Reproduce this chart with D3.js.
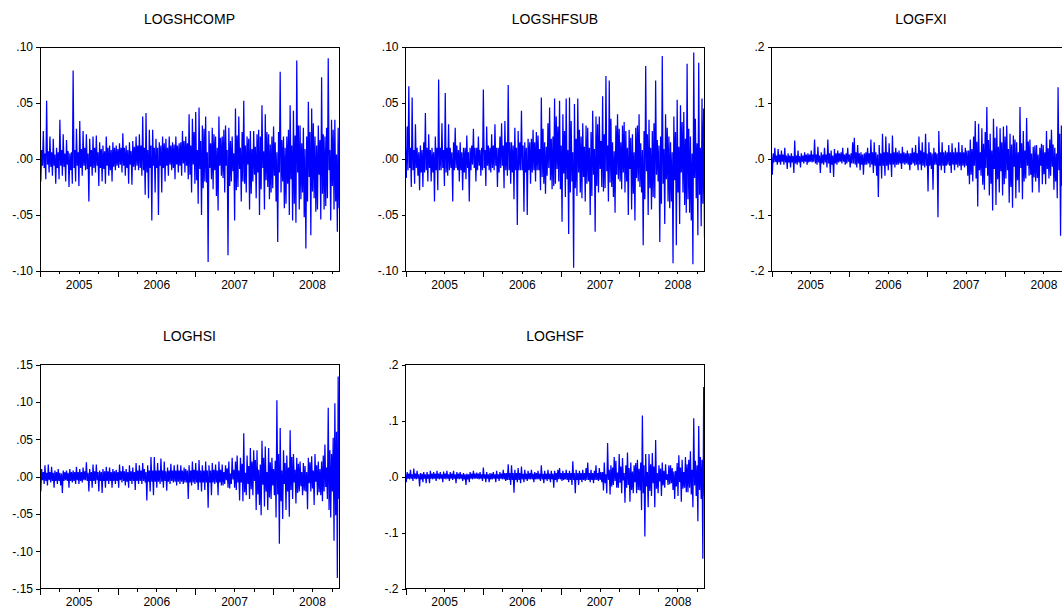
<!DOCTYPE html>
<html>
<head>
<meta charset="utf-8">
<title>Log returns</title>
<script src="https://cdn.jsdelivr.net/npm/d3@7"></script>
<style>
  body { margin: 0; background: #fff; }
  svg { display: block; }
  text { font-family: Arial, "Liberation Sans", sans-serif; fill: #000; }
</style>
</head>
<body>
<svg id="chart" width="1062" height="612"></svg>
<script>
// Daily log returns.
// The plots hold about 1000 days in 300px, so each series is kept as
// the highest and lowest return seen in each ~1.7px slice of the plot;
// the line visits high, low, high, low ... like the dense original.

const seriesNames = ['LOGSHCOMP', 'LOGSHFSUB', 'LOGFXI', 'LOGHSI', 'LOGHSF'];

const logshcompHigh = [
  .006,.008,.025,.005,.052,.007,.020,.006,.018,.004,
  .010,.006,.035,.008,.022,.005,.017,.007,.005,.006,
  .079,.008,.027,.006,.034,.009,.025,.010,.022,.005,
  .018,.008,.020,.010,.021,.006,.015,.009,.012,.007,
  .020,.010,.012,.008,.015,.010,.012,.009,.014,.010,
  .023,.010,.012,.008,.015,.007,.016,.011,.020,.012,
  .022,.012,.038,.010,.041,.008,.026,.012,.026,.010,
  .018,.010,.015,.012,.020,.014,.018,.010,.020,.012,
  .015,.013,.020,.012,.014,.015,.025,.016,.020,.014,
  .040,.012,.036,.024,.042,.008,.046,.016,.030,.027,
  .038,.006,.025,.014,.028,.022,.020,.010,.038,.019,
  .020,.026,.030,.008,.028,.016,.020,.005,.045,.021,
  .038,.010,.024,.052,.012,.020,.018,.025,.009,.025,
  .011,.022,.026,.020,.048,.007,.040,.024,.022,.013,
  .020,.029,.015,.006,.024,.078,.017,.020,.010,.020,
  .026,.048,.012,.043,.021,.088,.030,.030,.014,.028,
  .009,.020,.051,.024,.045,.032,.020,.012,.030,.017,
  .073,.022,.020,.028,.090,.008,.035,.026,.035,.004,
  .028
];
const logshcompLow = [
  -.020,-.006,-.008,-.018,-.005,-.012,-.007,-.015,-.006,-.022,
  -.008,-.018,-.006,-.015,-.007,-.020,-.005,-.025,-.010,-.022,
  -.008,-.020,-.006,-.024,-.008,-.015,-.006,-.010,-.009,-.038,
  -.007,-.015,-.008,-.012,-.006,-.024,-.008,-.020,-.009,-.022,
  -.006,-.015,-.010,-.020,-.007,-.010,-.006,-.008,-.005,-.012,
  -.006,-.015,-.008,-.022,-.005,-.023,-.007,-.010,-.006,-.010,
  -.008,-.015,-.010,-.032,-.012,-.035,-.008,-.055,-.006,-.030,
  -.008,-.050,-.006,-.030,-.008,-.020,-.006,-.015,-.005,-.010,
  -.008,-.018,-.005,-.012,-.006,-.015,-.004,-.012,-.006,-.018,
  -.014,-.030,-.005,-.022,-.019,-.040,-.009,-.050,-.026,-.020,
  -.021,-.092,-.008,-.018,-.027,-.010,-.033,-.046,-.006,-.015,
  -.017,-.030,-.006,-.086,-.024,-.020,-.011,-.055,-.028,-.025,
  -.009,-.038,-.020,-.022,-.030,-.005,-.045,-.031,-.020,-.014,
  -.035,-.012,-.050,-.027,-.008,-.045,-.019,-.025,-.036,-.030,
  -.026,-.015,-.038,-.074,-.012,-.030,-.020,-.044,-.040,-.022,
  -.050,-.018,-.055,-.040,-.057,-.012,-.045,-.036,-.030,-.052,
  -.080,-.038,-.016,-.068,-.029,-.035,-.047,-.045,-.014,-.054,
  -.031,-.045,-.042,-.035,-.010,-.055,-.024,-.045,-.038,-.065,
  -.044
];

const logshfsubHigh = [
  .008,.029,.065,.010,.055,.008,.031,.010,.006,.012,
  .008,.015,.041,.010,.022,.008,.010,.006,.020,.010,
  .071,.010,.032,.008,.059,.010,.031,.010,.006,.015,
  .028,.012,.008,.015,.006,.010,.010,.021,.006,.010,
  .012,.027,.010,.010,.020,.008,.010,.062,.008,.029,
  .012,.010,.022,.012,.031,.010,.010,.020,.032,.012,
  .034,.015,.066,.015,.015,.012,.028,.010,.025,.015,
  .043,.012,.015,.010,.018,.015,.018,.026,.015,.024,
  .021,.009,.055,.027,.015,.011,.032,.046,.018,.020,
  .054,.038,.029,.052,.012,.040,.025,.054,.008,.055,
  .034,.006,.049,.018,.054,.026,.020,.032,.011,.030,
  .028,.010,.024,.043,.009,.038,.031,.038,.016,.056,
  .022,.074,.012,.070,.036,.015,.007,.030,.040,.027,
  .015,.030,.033,.025,.010,.026,.019,.022,.006,.028,
  .030,.040,.014,.008,.025,.083,.022,.035,.010,.025,
  .032,.070,.017,.012,.020,.092,.009,.040,.028,.020,
  .015,.006,.038,.024,.053,.011,.048,.033,.042,.018,
  .085,.027,.020,.005,.095,.036,.014,.086,.010,.054,
  .045
];
const logshfsubLow = [
  -.017,-.010,-.008,-.025,-.010,-.022,-.008,-.015,-.028,-.012,
  -.025,-.012,-.010,-.020,-.008,-.020,-.012,-.038,-.010,-.028,
  -.010,-.010,-.008,-.024,-.012,-.015,-.010,-.008,-.038,-.010,
  -.008,-.010,-.020,-.010,-.028,-.012,-.018,-.008,-.038,-.010,
  -.005,-.008,-.020,-.010,-.006,-.015,-.010,-.008,-.024,-.006,
  -.010,-.012,-.008,-.010,-.006,-.025,-.012,-.008,-.006,-.026,
  -.010,-.015,-.010,-.022,-.012,-.036,-.010,-.059,-.010,-.010,
  -.010,-.047,-.012,-.050,-.010,-.022,-.012,-.010,-.020,-.010,
  -.010,-.028,-.016,-.022,-.031,-.015,-.008,-.019,-.027,-.024,
  -.022,-.009,-.020,-.027,-.056,-.013,-.034,-.018,-.067,-.030,
  -.020,-.097,-.026,-.033,-.012,-.030,-.035,-.016,-.038,-.022,
  -.020,-.050,-.033,-.014,-.065,-.024,-.030,-.009,-.025,-.029,
  -.026,-.011,-.038,-.021,-.025,-.034,-.048,-.014,-.018,-.020,
  -.027,-.012,-.030,-.020,-.050,-.009,-.045,-.031,-.055,-.017,
  -.020,-.025,-.030,-.077,-.036,-.011,-.050,-.026,-.045,-.034,
  -.035,-.014,-.020,-.074,-.040,-.022,-.058,-.018,-.038,-.044,
  -.038,-.093,-.019,-.077,-.030,-.058,-.012,-.030,-.041,-.048,
  -.036,-.048,-.055,-.094,-.017,-.035,-.068,-.032,-.060,-.040,
  -.070
];

const logfxiHigh = [
  .005,.010,.020,.006,.018,.008,.015,.008,.020,.006,
  .010,.006,.010,.005,.033,.006,.015,.005,.010,.006,
  .012,.008,.010,.008,.015,.008,.035,.008,.022,.006,
  .012,.008,.020,.008,.035,.010,.015,.006,.018,.010,
  .015,.010,.012,.020,.008,.010,.020,.008,.010,.030,
  .038,.012,.025,.010,.012,.008,.010,.012,.020,.010,
  .035,.012,.030,.012,.008,.025,.010,.045,.012,.040,
  .012,.028,.010,.042,.012,.020,.012,.015,.010,.022,
  .012,.010,.015,.010,.010,.020,.012,.025,.010,.040,
  .015,.030,.012,.045,.010,.030,.012,.010,.020,.012,
  .010,.050,.012,.030,.012,.015,.012,.025,.012,.028,
  .012,.020,.012,.030,.012,.025,.012,.020,.015,.015,
  .035,.018,.040,.068,.031,.063,.012,.055,.027,.048,
  .093,.034,.045,.015,.072,.038,.058,.022,.055,.030,
  .058,.040,.060,.018,.045,.026,.042,.035,.030,.012,
  .093,.028,.050,.015,.073,.031,.035,.010,.022,.024,
  .025,.008,.020,.027,.025,.012,.050,.019,.035,.052,
  .026,.020,.010,.128,.045,.060,.022,.090,.037,.050,
  .040
];
const logfxiLow = [
  -.028,-.006,-.005,-.010,-.006,-.010,-.005,-.010,-.006,-.018,
  -.006,-.015,-.006,-.025,-.008,-.010,-.006,-.015,-.005,-.008,
  -.005,-.010,-.006,-.005,-.006,-.005,-.008,-.010,-.006,-.025,
  -.008,-.010,-.006,-.015,-.008,-.025,-.010,-.032,-.008,-.010,
  -.006,-.005,-.008,-.005,-.010,-.008,-.005,-.015,-.008,-.008,
  -.010,-.015,-.008,-.020,-.010,-.028,-.010,-.010,-.008,-.015,
  -.010,-.025,-.012,-.030,-.068,-.012,-.035,-.012,-.030,-.012,
  -.020,-.010,-.032,-.010,-.015,-.010,-.010,-.008,-.018,-.008,
  -.010,-.008,-.010,-.020,-.010,-.008,-.012,-.010,-.020,-.010,
  -.020,-.012,-.015,-.012,-.058,-.012,-.018,-.055,-.010,-.010,
  -.104,-.012,-.020,-.012,-.025,-.012,-.010,-.012,-.025,-.010,
  -.020,-.010,-.015,-.012,-.020,-.012,-.015,-.012,-.030,-.045,
  -.028,-.040,-.012,-.035,-.085,-.020,-.030,-.046,-.055,-.016,
  -.030,-.065,-.044,-.092,-.018,-.082,-.036,-.060,-.022,-.065,
  -.045,-.035,-.020,-.078,-.050,-.087,-.014,-.070,-.038,-.060,
  -.016,-.072,-.040,-.035,-.012,-.030,-.028,-.060,-.033,-.040,
  -.034,-.060,-.012,-.045,-.027,-.045,-.018,-.035,-.030,-.014,
  -.055,-.040,-.070,-.020,-.137,-.048,-.080,-.025,-.060,-.035,
  -.040
];

const loghsiHigh = [
  .004,.010,.006,.015,.005,.016,.006,.013,.005,.008,
  .006,.010,.005,.004,.008,.006,.008,.005,.010,.006,
  .008,.006,.013,.006,.010,.006,.012,.007,.019,.005,
  .010,.006,.016,.007,.016,.006,.008,.006,.010,.007,
  .013,.007,.012,.006,.010,.007,.009,.006,.016,.007,
  .014,.007,.010,.006,.015,.007,.012,.006,.018,.008,
  .015,.008,.018,.010,.006,.015,.008,.026,.008,.026,
  .008,.018,.008,.024,.008,.020,.007,.012,.008,.017,
  .008,.015,.008,.016,.008,.015,.008,.012,.010,.008,
  .015,.008,.020,.009,.018,.008,.022,.008,.015,.008,
  .020,.008,.015,.008,.018,.009,.016,.008,.020,.009,
  .016,.006,.015,.011,.020,.004,.025,.009,.020,.028,
  .008,.025,.017,.058,.005,.028,.014,.038,.020,.035,
  .022,.035,.009,.016,.048,.025,.040,.006,.038,.019,
  .025,.010,.021,.102,.030,.065,.008,.035,.018,.028,
  .012,.062,.026,.030,.009,.025,.017,.020,.006,.018,
  .014,.006,.025,.019,.027,.008,.030,.015,.020,.010,
  .020,.028,.043,.012,.092,.035,.030,.052,.098,.060,
  .134
];
const loghsiLow = [
  -.020,-.005,-.010,-.006,-.012,-.005,-.008,-.006,-.015,-.006,
  -.010,-.006,-.012,-.022,-.006,-.005,-.006,-.015,-.006,-.008,
  -.006,-.010,-.005,-.010,-.006,-.008,-.005,-.005,-.006,-.020,
  -.006,-.015,-.006,-.010,-.005,-.020,-.006,-.022,-.006,-.015,
  -.006,-.010,-.006,-.015,-.006,-.010,-.006,-.015,-.005,-.008,
  -.006,-.012,-.007,-.015,-.006,-.010,-.006,-.018,-.006,-.010,
  -.006,-.010,-.006,-.008,-.032,-.007,-.020,-.007,-.025,-.007,
  -.015,-.007,-.010,-.007,-.015,-.006,-.019,-.007,-.010,-.006,
  -.008,-.007,-.012,-.007,-.010,-.007,-.010,-.008,-.008,-.030,
  -.008,-.012,-.008,-.010,-.008,-.018,-.008,-.020,-.008,-.018,
  -.008,-.042,-.008,-.025,-.008,-.010,-.008,-.025,-.008,-.012,
  -.012,-.010,-.005,-.015,-.016,-.010,-.004,-.015,-.018,-.008,
  -.032,-.008,-.033,-.021,-.025,-.010,-.030,-.017,-.025,-.006,
  -.045,-.024,-.038,-.052,-.011,-.040,-.020,-.045,-.028,-.030,
  -.012,-.025,-.055,-.024,-.090,-.033,-.057,-.010,-.045,-.020,
  -.054,-.018,-.030,-.008,-.036,-.022,-.020,-.013,-.025,-.019,
  -.020,-.044,-.009,-.020,-.016,-.038,-.007,-.025,-.021,-.025,
  -.033,-.020,-.014,-.030,-.045,-.055,-.020,-.086,-.052,-.136,
  -.030
];

const loghsfHigh = [
  .004,.008,.005,.012,.004,.014,.005,.010,.004,.006,
  .005,.008,.004,.008,.004,.010,.005,.008,.005,.010,
  .005,.008,.004,.009,.005,.010,.004,.008,.005,.010,
  .004,.008,.005,.008,.004,.006,.004,.005,.004,.008,
  .005,.010,.005,.007,.005,.008,.004,.016,.004,.008,
  .004,.006,.005,.008,.004,.010,.004,.008,.005,.012,
  .006,.006,.022,.006,.020,.006,.012,.006,.015,.006,
  .018,.005,.012,.005,.010,.006,.012,.005,.008,.006,
  .010,.005,.020,.005,.010,.005,.012,.005,.010,.005,
  .010,.006,.012,.015,.006,.010,.006,.012,.006,.010,
  .006,.027,.006,.012,.006,.010,.006,.012,.006,.015,
  .025,.006,.012,.006,.010,.020,.006,.015,.008,.008,
  .025,.004,.060,.012,.020,.016,.035,.028,.007,.040,
  .018,.033,.006,.020,.043,.015,.025,.009,.020,.024,
  .030,.014,.025,.109,.020,.040,.008,.040,.022,.042,
  .018,.065,.006,.020,.014,.025,.010,.022,.004,.020,
  .020,.015,.009,.010,.024,.038,.016,.030,.008,.035,
  .022,.030,.045,.012,.104,.028,.020,.090,.035,.030,
  .160
];
const loghsfLow = [
  -.010,-.004,-.005,-.004,-.008,-.004,-.005,-.004,-.018,-.005,
  -.010,-.004,-.012,-.004,-.012,-.004,-.005,-.004,-.008,-.004,
  -.005,-.004,-.010,-.004,-.005,-.004,-.008,-.004,-.006,-.004,
  -.012,-.004,-.005,-.004,-.008,-.005,-.015,-.005,-.010,-.004,
  -.005,-.004,-.004,-.004,-.005,-.004,-.008,-.004,-.010,-.004,
  -.010,-.005,-.005,-.004,-.010,-.004,-.008,-.004,-.005,-.005,
  -.008,-.006,-.006,-.015,-.006,-.029,-.006,-.010,-.006,-.012,
  -.005,-.010,-.005,-.008,-.005,-.005,-.005,-.010,-.005,-.005,
  -.005,-.008,-.005,-.012,-.005,-.008,-.005,-.010,-.005,-.020,
  -.006,-.010,-.005,-.005,-.008,-.006,-.005,-.006,-.010,-.006,
  -.015,-.006,-.030,-.006,-.015,-.006,-.010,-.006,-.008,-.006,
  -.006,-.010,-.006,-.012,-.006,-.006,-.008,-.006,-.010,-.025,
  -.012,-.030,-.006,-.032,-.018,-.015,-.008,-.020,-.020,-.011,
  -.030,-.007,-.047,-.020,-.015,-.045,-.024,-.030,-.010,-.030,
  -.024,-.025,-.060,-.030,-.107,-.018,-.055,-.026,-.035,-.012,
  -.055,-.022,-.030,-.009,-.035,-.016,-.020,-.006,-.015,-.014,
  -.012,-.024,-.040,-.018,-.035,-.010,-.045,-.022,-.020,-.028,
  -.028,-.020,-.032,-.055,-.016,-.035,-.080,-.024,-.040,-.147,
  -.035
];

// axis ticks
const yTicksNarrow = [-.10, -.05, 0, .05, .10];
const yTicksWide = [-.2, -.1, 0, .1, .2];
const yTicksHsi = [-.15, -.10, -.05, 0, .05, .10, .15];
const years = [2005, 2006, 2007, 2008];
const quarterMonths = [3, 6, 9];

// sample runs from the start of 2005 to early November 2008
const startDate = new Date(2005, 0, 1);
const endDate = new Date(2008, 10, 5);

const panels = [
    { name: seriesNames[0], high: logshcompHigh, low: logshcompLow, ticks: yTicksNarrow, digits: 2, col: 0, row: 0 },
    { name: seriesNames[1], high: logshfsubHigh, low: logshfsubLow, ticks: yTicksNarrow, digits: 2, col: 1, row: 0 },
    { name: seriesNames[2], high: logfxiHigh, low: logfxiLow, ticks: yTicksWide, digits: 1, col: 2, row: 0 },
    { name: seriesNames[3], high: loghsiHigh, low: loghsiLow, ticks: yTicksHsi, digits: 2, col: 0, row: 1 },
    { name: seriesNames[4], high: loghsfHigh, low: loghsfLow, ticks: yTicksWide, digits: 1, col: 1, row: 1 }
];

// layout
const colX = [40, 405.5, 771.5];
const rowY = [47, 364.5];
const plotW = 299;
const plotH = 224;

const svg = d3.select('#chart');

// EViews style labels: ".05", "-.10", ".0"
function tickLabel(digits) {
    const f = d3.format('.' + digits + 'f');
    return (d) => f(d).replace('\u2212', '-').replace(/^(-?)0\./, '$1.');
}

const majorTicks = years.map((y) => new Date(y, 0, 1));
const minorTicks = years.flatMap((y) => quarterMonths.map((m) => new Date(y, m, 1)))
    .filter((d) => d <= endDate);
const yearLabels = years.map((y) => new Date(y, 6, 1));

panels.forEach((p, k) => {
    const g = svg.append('g')
        .attr('transform', `translate(${ colX[p.col] },${ rowY[p.row] })`);

    const x = d3.scaleTime().domain([startDate, endDate]).range([0, plotW]);
    const y = d3.scaleLinear().domain(d3.extent(p.ticks)).range([plotH, 0]);

    // high, low, high, low ... in time order
    const values = d3.merge(p.high.map((h, i) => [h, p.low[i]]));
    const step = (endDate - startDate) / (values.length - 1);
    const data = values.map((v, i) => ({ date: new Date(+startDate + i * step), value: v }));

    g.append('clipPath').attr('id', 'clip' + k)
        .append('rect').attr('width', plotW).attr('height', plotH);

    g.append('path')
        .datum(data)
        .attr('clip-path', `url(#clip${ k })`)
        .attr('fill', 'none')
        .attr('stroke', '#0000ff')
        .attr('stroke-width', 1.25)
        .attr('d', d3.line().x((d) => x(d.date)).y((d) => y(d.value)));

    // frame
    g.append('rect')
        .attr('width', plotW)
        .attr('height', plotH)
        .attr('fill', 'none')
        .attr('stroke', '#000')
        .attr('stroke-width', 1)
        .attr('shape-rendering', 'crispEdges');

    // x axis: quarter ticks, year ticks, year labels in the middle
    const bottom = g.append('g').attr('transform', `translate(0,${ plotH })`);
    bottom.append('g')
        .call(d3.axisBottom(x).tickValues(minorTicks).tickSize(3).tickFormat(''));
    bottom.append('g')
        .call(d3.axisBottom(x).tickValues(majorTicks).tickSize(6).tickFormat(''));
    bottom.append('g')
        .call(d3.axisBottom(x).tickValues(yearLabels).tickSize(0).tickPadding(9)
            .tickFormat(d3.timeFormat('%Y')));

    // y axis
    const left = g.append('g')
        .call(d3.axisLeft(y).tickValues(p.ticks).tickSize(4).tickPadding(3)
            .tickFormat(tickLabel(p.digits)));

    [bottom, left].forEach((a) => {
        a.selectAll('.domain').remove();
        a.selectAll('line').attr('stroke', '#000').attr('shape-rendering', 'crispEdges');
        a.selectAll('text')
            .style('font-family', 'Arial, "Liberation Sans", sans-serif')
            .style('font-size', '12px')
            .attr('fill', '#000');
    });

    g.append('text')
        .attr('x', plotW / 2)
        .attr('y', -23.5)
        .attr('text-anchor', 'middle')
        .style('font-size', '14px')
        .text(p.name);
});
</script>
</body>
</html>
